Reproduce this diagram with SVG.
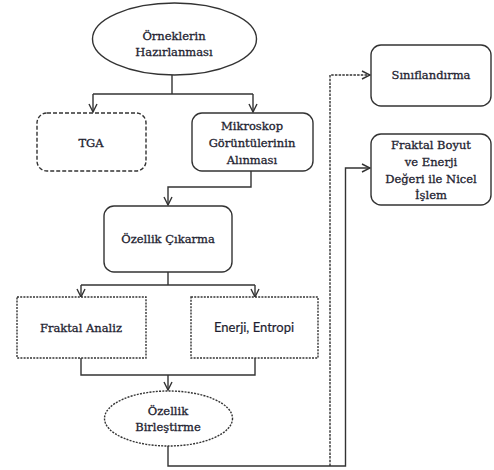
<svg xmlns="http://www.w3.org/2000/svg" width="494" height="470" viewBox="0 0 494 470">
<style>
.box{fill:#fff;stroke:#333;stroke-width:1.4}
.dash{stroke-dasharray:4,2}
.dot{stroke-dasharray:2,1.2}
.t{font-family:"DejaVu Serif","Liberation Serif",serif;font-size:11.5px;fill:#1e1e30;stroke:#1e1e30;stroke-width:0.3;text-anchor:middle;dominant-baseline:central}
.s{font-family:Lato,"Liberation Sans",sans-serif;font-size:13px;fill:#1e1e30;stroke:#1e1e30;stroke-width:0.2;text-anchor:middle;dominant-baseline:central}
.c{fill:none;stroke:#333;stroke-width:1.4}
</style>
<defs>
<marker id="ah" viewBox="0 0 10 10" refX="9" refY="5" markerWidth="10" markerHeight="10" markerUnits="userSpaceOnUse" orient="auto">
<path d="M1,1 L9,5 L1,9" fill="none" stroke="#333" stroke-width="1.4"/>
</marker>
</defs>
<rect width="494" height="470" fill="#fff"/>
<g id="connectors">
<path class="c" d="M172,75 V94"/>
<path class="c" d="M93,94 H253"/>
<path class="c" d="M93,94 V112" marker-end="url(#ah)"/>
<path class="c" d="M253,94 V112" marker-end="url(#ah)"/>
<path class="c" d="M251,171 V187 H168 V205" marker-end="url(#ah)"/>
<path class="c" d="M168,272 V285"/>
<path class="c" d="M81,285 H255"/>
<path class="c" d="M81,285 V297" marker-end="url(#ah)"/>
<path class="c" d="M255,285 V297" marker-end="url(#ah)"/>
<path class="c" d="M81,358 V375 H255 V358"/>
<path class="c" d="M168,375 V390" marker-end="url(#ah)"/>
<path class="c" d="M168,446 V466 H345.5 V168 H370" marker-end="url(#ah)"/>
<path class="c" d="M330,466 V75 H370" stroke-dasharray="2.5,1.2" marker-end="url(#ah)"/>
</g>
<g id="n1">
<ellipse class="box" cx="174.5" cy="39" rx="82" ry="36"/>
<text class="t" x="174" y="36">Örneklerin</text>
<text class="t" x="174" y="52">Hazırlanması</text>
</g>
<g id="n2">
<rect class="box dash" x="37" y="113" width="109" height="58" rx="10"/>
<text class="t" x="91" y="143">TGA</text>
</g>
<g id="n3">
<rect class="box" x="192" y="113" width="121" height="58" rx="10"/>
<text class="t" x="252" y="126">Mikroskop</text>
<text class="t" x="252" y="143">Görüntülerinin</text>
<text class="t" x="252" y="160">Alınması</text>
</g>
<g id="n4">
<rect class="box" x="104" y="206" width="128" height="66" rx="10"/>
<text class="t" x="168" y="239">Özellik Çıkarma</text>
</g>
<g id="n5">
<rect class="box dot" x="17" y="297" width="129" height="61"/>
<text class="t" x="81" y="328">Fraktal Analiz</text>
</g>
<g id="n6">
<rect class="box dot" x="191" y="297" width="127" height="61"/>
<text class="s" x="254" y="327">Enerji, Entropi</text>
</g>
<g id="n7">
<ellipse class="box dot" cx="168.5" cy="418.5" rx="64" ry="27.5"/>
<text class="t" x="168" y="411">Özellik</text>
<text class="t" x="168" y="427">Birleştirme</text>
</g>
<g id="n8">
<rect class="box" x="371" y="45" width="120" height="61" rx="10"/>
<text class="t" x="431" y="75">Sınıflandırma</text>
</g>
<g id="n9">
<rect class="box" x="371" y="134" width="120" height="71" rx="10"/>
<text class="t" x="431" y="145">Fraktal Boyut</text>
<text class="t" x="431" y="162">ve Enerji</text>
<text class="t" x="431" y="179">Değeri ile Nicel</text>
<text class="t" x="431" y="195">İşlem</text>
</g>
</svg>
